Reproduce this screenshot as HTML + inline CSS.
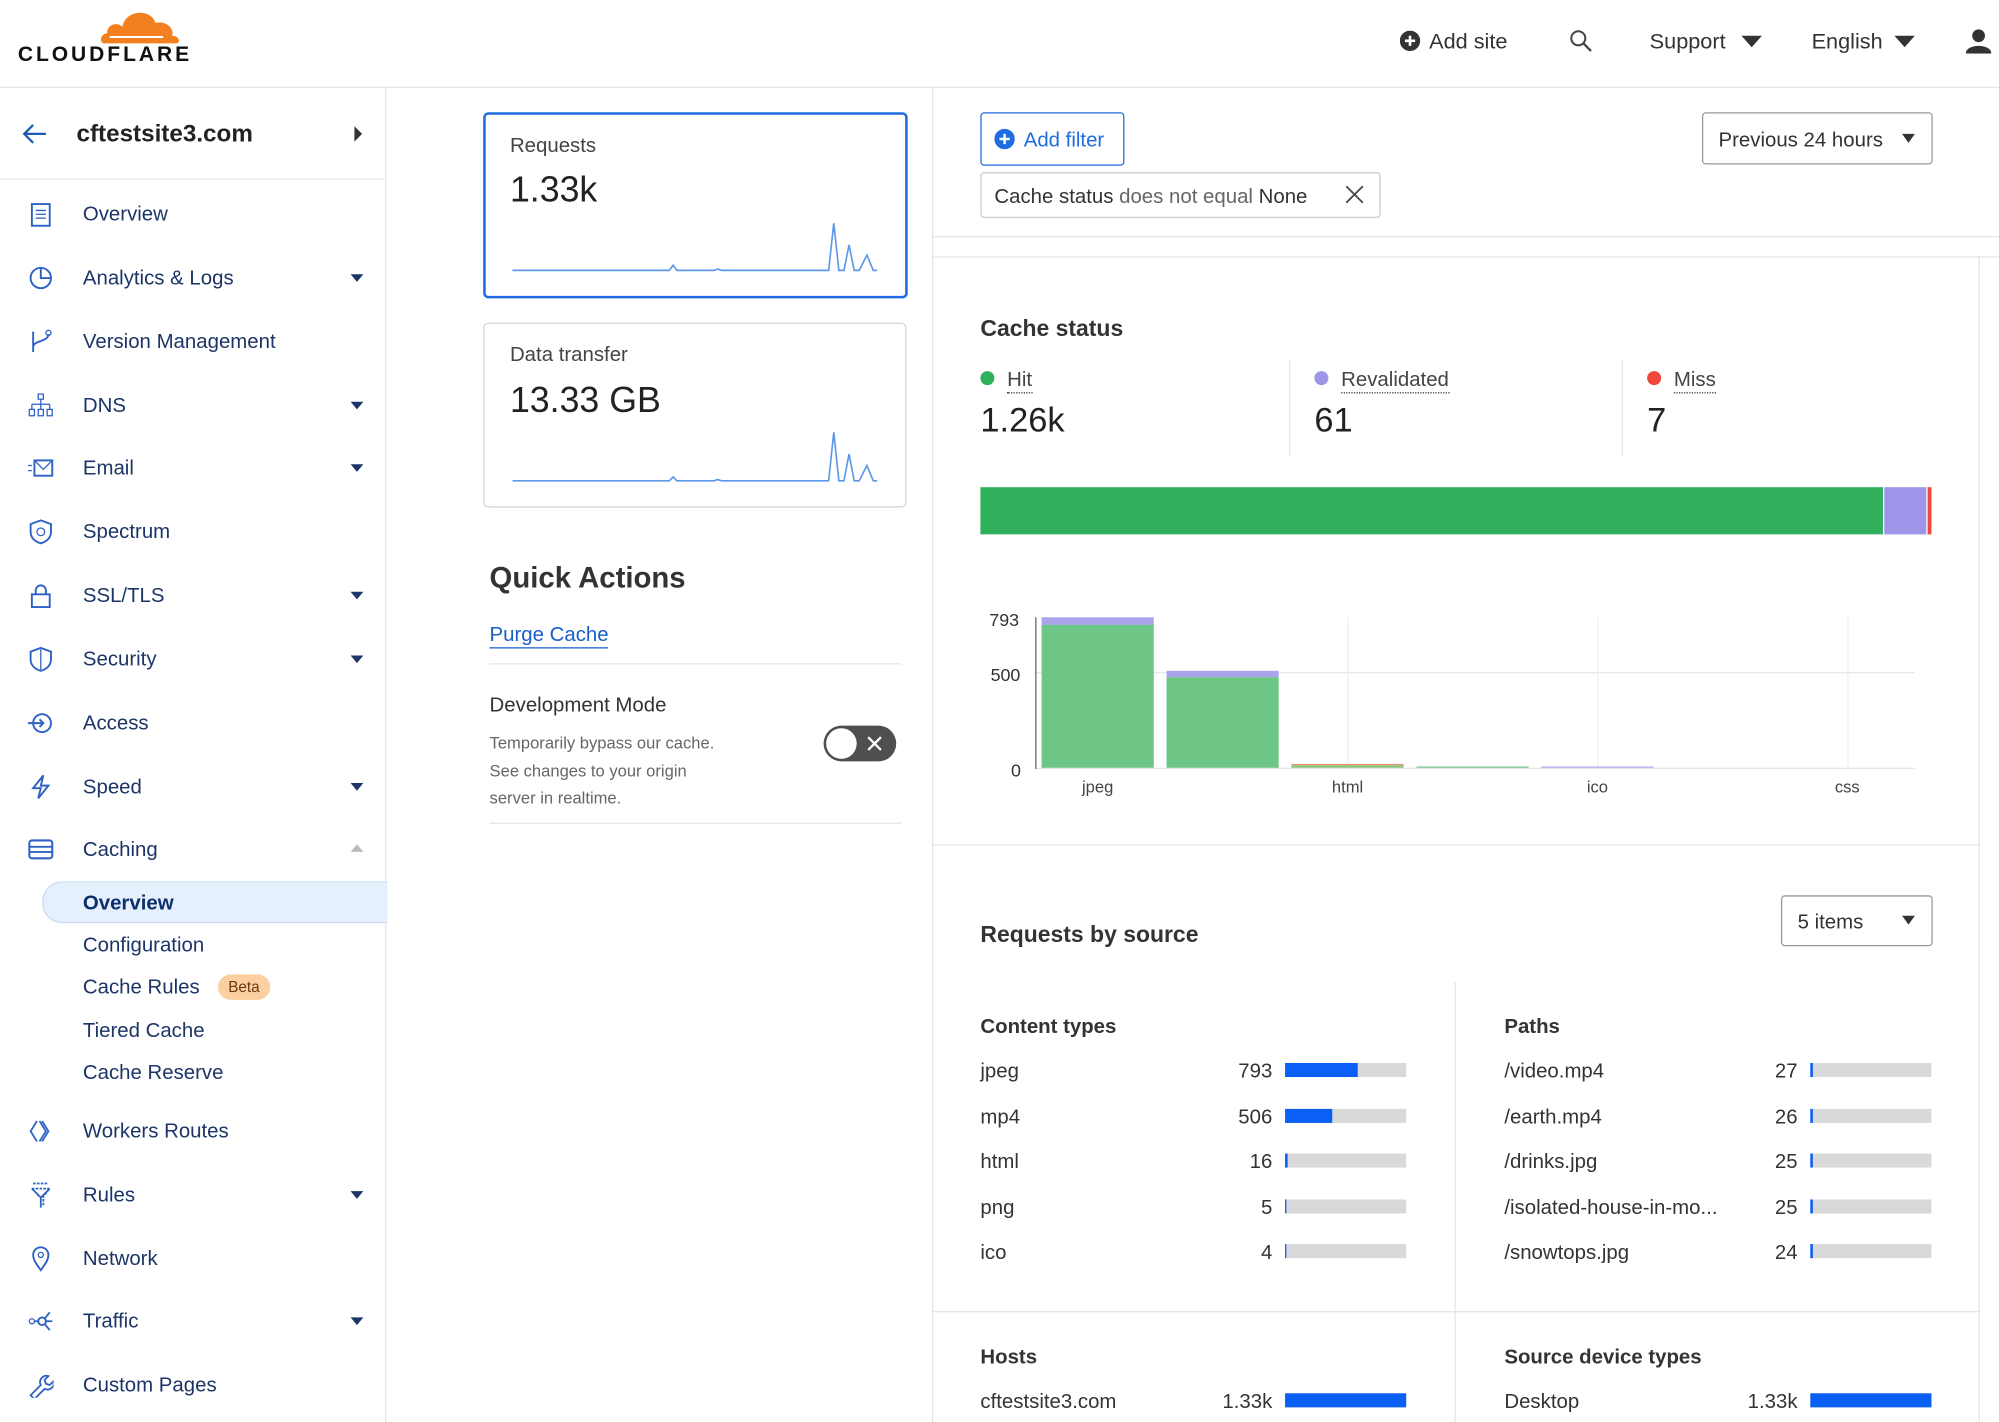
<!DOCTYPE html>
<html><head><meta charset="utf-8">
<style>
html,body{margin:0;padding:0;width:1999px;height:1422px;overflow:hidden;background:#fff}
#w{position:absolute;left:0;top:0;width:1568px;height:1115px;transform:scale(1.27487,1.27534);transform-origin:0 0;font-family:"Liberation Sans",Arial,sans-serif;color:#222}
.a{position:absolute;white-space:nowrap}
.nav{position:absolute;left:65px;font-size:16px;color:#1d3566;transform:translateY(calc(-50% + 2px))}
.ic{position:absolute;left:22px;width:20px;height:20px;transform:translateY(-50%)}
.car{position:absolute;left:275px;width:0;height:0;border-left:5px solid transparent;border-right:5px solid transparent;border-top:6px solid #1d3566;transform:translateY(-50%)}
.hl{position:absolute;background:#e5e5e5;height:1px}
.vl{position:absolute;background:#e5e5e5;width:1px}
.c{transform:translateY(calc(-50% + 2px))}
.row{position:absolute;font-size:16px;color:#333;transform:translateY(calc(-50% + 2px))}
.num{position:absolute;font-size:16px;color:#333;text-align:right;width:60px;transform:translateY(calc(-50% + 2px))}
.bar{position:absolute;height:11px;background:#d9d9d9;transform:translateY(-50%)}
.bar i{position:absolute;left:0;top:0;bottom:0;background:#0a5ff5}
.lbl{position:absolute;font-size:13px;color:#444;transform:translate(-50%,calc(-50% + 1px))}
</style></head><body><div id="w">

<!-- header -->
<svg class="a" style="left:78px;top:6px" width="64" height="30" viewBox="0 0 64 30"><path d="M4 28 C0 28 0 21 6 20 C6 13 14 11 18 15 C20 2 40 0 44 12 C52 10 59 16 57 22 C63 22 64 28 60 28 Z" fill="#f38020"/><path d="M8 23 L50 23" stroke="#fff" stroke-width="1.5"/></svg>
<div class="a" style="left:14px;top:34px;font-size:16.5px;font-weight:bold;letter-spacing:2.3px;color:#111">CLOUDFLARE</div>
<div class="hl" style="left:0;top:68px;width:1568px"></div>
<svg class="a" style="left:1098px;top:24px" width="16" height="16"><circle cx="8" cy="8" r="8" fill="#333"/><path d="M8 4v8M4 8h8" stroke="#fff" stroke-width="2"/></svg>
<div class="a c" style="left:1121px;top:31px;font-size:17px;color:#333">Add site</div>
<svg class="a" style="left:1231px;top:23px" width="18" height="18"><circle cx="7" cy="7" r="5.5" fill="none" stroke="#444" stroke-width="1.6"/><path d="M11 11l6 6" stroke="#444" stroke-width="1.8"/></svg>
<div class="a c" style="left:1294px;top:31px;font-size:17px;color:#333">Support</div>
<div class="a" style="left:1366px;top:28px;border-left:8px solid transparent;border-right:8px solid transparent;border-top:9px solid #333"></div>
<div class="a c" style="left:1421px;top:31px;font-size:17px;color:#333">English</div>
<div class="a" style="left:1486px;top:28px;border-left:8px solid transparent;border-right:8px solid transparent;border-top:9px solid #333"></div>
<svg class="a" style="left:1542px;top:22px" width="20" height="20"><circle cx="10" cy="6" r="5" fill="#333"/><path d="M0 20 C0 12 20 12 20 20Z" fill="#333"/></svg>

<!-- sidebar -->
<div class="vl" style="left:302px;top:68px;height:1047px"></div>
<svg class="a" style="left:16px;top:96px" width="22" height="18"><path d="M20 9H3M10 2L3 9l7 7" fill="none" stroke="#1d5bb8" stroke-width="1.8"/></svg>
<div class="a c" style="left:60px;top:104px;font-size:19px;font-weight:bold;color:#222">cftestsite3.com</div>
<div class="a" style="left:278px;top:99px;border-top:6px solid transparent;border-bottom:6px solid transparent;border-left:6px solid #333"></div>
<div class="hl" style="left:0;top:140px;width:302px"></div>

<svg class="ic" style="top:168px" viewBox="0 0 20 20"><rect x="3" y="2" width="14" height="17" fill="none" stroke="#2d62c4" stroke-width="1.5"/><path d="M6 7h8M6 10h8M6 13h8" stroke="#2d62c4"/></svg><div class="nav" style="top:167px">Overview</div>
<svg class="ic" style="top:218px" viewBox="0 0 20 20"><circle cx="10" cy="10" r="8" fill="none" stroke="#2d62c4" stroke-width="1.5"/><path d="M10 2v8h8" fill="none" stroke="#2d62c4" stroke-width="1.5"/></svg><div class="nav" style="top:217px">Analytics &amp; Logs</div><div class="car" style="top:218px"></div>
<svg class="ic" style="top:268px" viewBox="0 0 20 20"><path d="M4 2v16M4 14c0-5 12-4 12-10" fill="none" stroke="#2d62c4" stroke-width="1.5"/><circle cx="16" cy="3" r="2" fill="none" stroke="#2d62c4"/></svg><div class="nav" style="top:267px">Version Management</div>
<svg class="ic" style="top:318px" viewBox="0 0 20 20"><rect x="8" y="1" width="4" height="4" fill="none" stroke="#2d62c4"/><path d="M10 5v4M3 9h14M3 9v4M10 9v4M17 9v4" stroke="#2d62c4"/><rect x="1" y="13" width="4" height="5" fill="none" stroke="#2d62c4"/><rect x="8" y="13" width="4" height="5" fill="none" stroke="#2d62c4"/><rect x="15" y="13" width="4" height="5" fill="none" stroke="#2d62c4"/></svg><div class="nav" style="top:317px">DNS</div><div class="car" style="top:318px"></div>
<svg class="ic" style="top:367px" viewBox="0 0 20 20"><rect x="5" y="4" width="14" height="12" fill="none" stroke="#2d62c4" stroke-width="1.5"/><path d="M5 4l7 7 7-7M0 8h3M0 12h3" fill="none" stroke="#2d62c4"/></svg><div class="nav" style="top:366px">Email</div><div class="car" style="top:367px"></div>
<svg class="ic" style="top:417px" viewBox="0 0 20 20"><path d="M10 1l8 3v6c0 5-4 8-8 9-4-1-8-4-8-9V4z" fill="none" stroke="#2d62c4" stroke-width="1.5"/><circle cx="10" cy="10" r="3" fill="none" stroke="#2d62c4"/></svg><div class="nav" style="top:416px">Spectrum</div>
<svg class="ic" style="top:467px" viewBox="0 0 20 20"><rect x="3" y="9" width="14" height="10" fill="none" stroke="#2d62c4" stroke-width="1.5"/><path d="M6 9V6a4 4 0 018 0v3" fill="none" stroke="#2d62c4" stroke-width="1.5"/></svg><div class="nav" style="top:466px">SSL/TLS</div><div class="car" style="top:467px"></div>
<svg class="ic" style="top:517px" viewBox="0 0 20 20"><path d="M10 1l8 3v6c0 5-4 8-8 9-4-1-8-4-8-9V4z" fill="none" stroke="#2d62c4" stroke-width="1.5"/><path d="M10 2v16" stroke="#2d62c4"/></svg><div class="nav" style="top:516px">Security</div><div class="car" style="top:517px"></div>
<svg class="ic" style="top:567px" viewBox="0 0 20 20"><circle cx="11" cy="10" r="7" fill="none" stroke="#2d62c4" stroke-width="1.5"/><path d="M0 10h12M9 7l3 3-3 3" fill="none" stroke="#2d62c4" stroke-width="1.5"/></svg><div class="nav" style="top:566px">Access</div>
<svg class="ic" style="top:617px" viewBox="0 0 20 20"><path d="M12 1L4 11h6l-2 8 8-10h-6z" fill="none" stroke="#2d62c4" stroke-width="1.5"/></svg><div class="nav" style="top:616px">Speed</div><div class="car" style="top:617px"></div>
<svg class="ic" style="top:666px" viewBox="0 0 20 20"><rect x="1" y="3" width="18" height="14" rx="2" fill="none" stroke="#2d62c4" stroke-width="1.6"/><path d="M1 8h18M1 12h18" stroke="#2d62c4" stroke-width="1.5"/></svg><div class="nav" style="top:665px">Caching</div>
<div class="a" style="left:275px;top:662px;border-left:5px solid transparent;border-right:5px solid transparent;border-bottom:6px solid #bbb"></div>
<div class="a" style="left:33px;top:691px;width:270px;height:31px;background:#e6f0fc;border:1px solid #c6daf5;border-right:none;border-radius:16px 0 0 16px"></div>
<div class="nav" style="top:707px;font-weight:bold;color:#0b2f6b">Overview</div>
<div class="nav" style="top:740px">Configuration</div>
<div class="nav" style="top:773px">Cache Rules</div>
<div class="a c" style="left:171px;top:772px;background:#fbcf9f;color:#6a3a10;font-size:12px;padding:3px 8px;border-radius:10px">Beta</div>
<div class="nav" style="top:807px">Tiered Cache</div>
<div class="nav" style="top:840px">Cache Reserve</div>
<svg class="ic" style="top:887px" viewBox="0 0 20 20"><path d="M7 2L2 10l5 8M11 2l5 8-5 8M9 2l5 8-5 8" fill="none" stroke="#2d62c4" stroke-width="1.4"/></svg><div class="nav" style="top:886px">Workers Routes</div>
<svg class="ic" style="top:937px" viewBox="0 0 20 20"><path d="M4 1h12M3 5h14l-5 6v7M8 11v-1" fill="none" stroke="#2d62c4" stroke-width="1.4" stroke-dasharray="2 1"/><path d="M3 5l7 7 7-7M10 12v8" fill="none" stroke="#2d62c4" stroke-width="1.4"/></svg><div class="nav" style="top:936px">Rules</div><div class="car" style="top:937px"></div>
<svg class="ic" style="top:987px" viewBox="0 0 20 20"><path d="M10 19C5 12 4 10 4 7a6 6 0 0112 0c0 3-1 5-6 12z" fill="none" stroke="#2d62c4" stroke-width="1.5"/><circle cx="10" cy="7" r="2" fill="none" stroke="#2d62c4"/></svg><div class="nav" style="top:986px">Network</div>
<svg class="ic" style="top:1036px" viewBox="0 0 20 20"><circle cx="3" cy="10" r="2" fill="none" stroke="#2d62c4"/><circle cx="11" cy="10" r="3" fill="none" stroke="#2d62c4" stroke-width="1.5"/><path d="M5 10h3M13 8l4-5M13 12l4 5M14 10h5" stroke="#2d62c4" stroke-width="1.4"/></svg><div class="nav" style="top:1035px">Traffic</div><div class="car" style="top:1036px"></div>
<svg class="ic" style="top:1086px" viewBox="0 0 20 20"><path d="M2 18l8-8a5 5 0 016-7l-3 3 1 3 3 1 3-3a5 5 0 01-7 6l-8 8z" fill="none" stroke="#2d62c4" stroke-width="1.4"/></svg><div class="nav" style="top:1085px">Custom Pages</div>

<!-- middle column -->
<div class="vl" style="left:731px;top:68px;height:1047px"></div>
<div class="a" style="left:379px;top:88px;width:329px;height:142px;border:2px solid #1f6ce0;border-radius:4px"></div>
<div class="a c" style="left:400px;top:113px;font-size:16px;color:#444">Requests</div>
<div class="a c" style="left:400px;top:147px;font-size:28px;color:#222">1.33k</div>
<svg class="a" style="left:400px;top:170px" width="290" height="46"><polyline points="2,42 125,42 128,38 131,42 160,42 163,41 166,42 250,42 254,5 258,42 262,42 266,22 270,42 274,42 280,30 285,42 288,42" fill="none" stroke="#5e98ea" stroke-width="1.3"/></svg>
<div class="a" style="left:379px;top:253px;width:330px;height:143px;border:1px solid #d5d5d5;border-radius:4px"></div>
<div class="a c" style="left:400px;top:277px;font-size:16px;color:#444">Data transfer</div>
<div class="a c" style="left:400px;top:312px;font-size:28px;color:#222">13.33 GB</div>
<svg class="a" style="left:400px;top:335px" width="290" height="46"><polyline points="2,42 125,42 128,39 131,42 160,42 163,41 166,42 250,42 254,4 258,42 262,42 266,21 270,42 274,42 280,30 285,42 288,42" fill="none" stroke="#5e98ea" stroke-width="1.3"/></svg>
<div class="a c" style="left:384px;top:451px;font-size:23px;font-weight:bold;color:#333">Quick Actions</div>
<div class="a c" style="left:384px;top:497px;font-size:16px;color:#1a5fc9;border-bottom:1px solid #1a5fc9">Purge Cache</div>
<div class="hl" style="left:384px;top:520px;width:323px"></div>
<div class="a c" style="left:384px;top:552px;font-size:16px;color:#333">Development Mode</div>
<div class="a" style="left:384px;top:572px;font-size:13px;line-height:21.5px;color:#666">Temporarily bypass our cache.<br>See changes to your origin<br>server in realtime.</div>
<div class="a" style="left:646px;top:569px;width:57px;height:28px;border-radius:14px;background:#4f4f4f"></div>
<div class="a" style="left:648px;top:571px;width:24px;height:24px;border-radius:12px;background:#fff"></div>
<svg class="a" style="left:680px;top:577px" width="12" height="12"><path d="M1 1l10 10M11 1L1 11" stroke="#fff" stroke-width="1.8"/></svg>
<div class="hl" style="left:384px;top:645px;width:323px"></div>

<!-- right column -->
<div class="a" style="left:769px;top:88px;width:111px;height:40px;border:1px solid #1f6ce0;border-radius:3px"></div>
<svg class="a" style="left:780px;top:101px" width="16" height="16"><circle cx="8" cy="8" r="8" fill="#1f6ce0"/><path d="M8 4v8M4 8h8" stroke="#fff" stroke-width="2"/></svg>
<div class="a c" style="left:803px;top:109px;font-size:16px;color:#1f6ce0">Add filter</div>
<div class="a" style="left:1335px;top:88px;width:179px;height:39px;border:1px solid #999;border-radius:3px"></div>
<div class="a c" style="left:1348px;top:109px;font-size:16px;color:#333">Previous 24 hours</div>
<div class="a" style="left:1492px;top:105px;border-left:5px solid transparent;border-right:5px solid transparent;border-top:7px solid #333"></div>
<div class="a" style="left:769px;top:135px;width:312px;height:34px;border:1px solid #ccc;border-radius:3px"></div>
<div class="a c" style="left:780px;top:153px;font-size:16px;color:#333">Cache status <span style="color:#666">does not equal</span> None</div>
<svg class="a" style="left:1055px;top:145px" width="15" height="15"><path d="M1 1l13 13M14 1L1 14" stroke="#444" stroke-width="1.4"/></svg>
<div class="hl" style="left:731px;top:185px;width:837px"></div>
<div class="hl" style="left:731px;top:201px;width:837px"></div>
<div class="vl" style="left:1552px;top:201px;height:914px"></div>

<div class="a c" style="left:769px;top:256px;font-size:18px;font-weight:bold;color:#333">Cache status</div>
<div class="a" style="left:769px;top:291px;width:11px;height:11px;border-radius:6px;background:#2fb15b"></div>
<div class="a c" style="left:790px;top:297px;font-size:16px;color:#444;border-bottom:1px dotted #444">Hit</div>
<div class="a c" style="left:769px;top:328px;font-size:27px;color:#222">1.26k</div>
<div class="vl" style="left:1011px;top:283px;height:74px"></div>
<div class="a" style="left:1031px;top:291px;width:11px;height:11px;border-radius:6px;background:#9d96e8"></div>
<div class="a c" style="left:1052px;top:297px;font-size:16px;color:#444;border-bottom:1px dotted #444">Revalidated</div>
<div class="a c" style="left:1031px;top:328px;font-size:27px;color:#222">61</div>
<div class="vl" style="left:1272px;top:283px;height:74px"></div>
<div class="a" style="left:1292px;top:291px;width:11px;height:11px;border-radius:6px;background:#f0463c"></div>
<div class="a c" style="left:1313px;top:297px;font-size:16px;color:#444;border-bottom:1px dotted #444">Miss</div>
<div class="a c" style="left:1292px;top:328px;font-size:27px;color:#222">7</div>

<div class="a" style="left:769px;top:382px;width:708px;height:37px;background:#31b05c"></div>
<div class="a" style="left:1478px;top:382px;width:33px;height:37px;background:#9d96e8"></div>
<div class="a" style="left:1512px;top:382px;width:3px;height:37px;background:#f0463c"></div>

<!-- bar chart -->
<div class="hl" style="left:812px;top:527px;width:690px"></div>
<div class="hl" style="left:812px;top:602px;width:690px"></div>
<div class="vl" style="left:1057px;top:484px;height:118px;background:#eee"></div>
<div class="vl" style="left:1253px;top:484px;height:118px;background:#eee"></div>
<div class="vl" style="left:1449px;top:484px;height:118px;background:#eee"></div>
<div class="a" style="left:812px;top:484px;width:1px;height:119px;background:#666"></div>
<div class="a c" style="left:776px;top:484px;font-size:14px;color:#333">793</div>
<div class="a c" style="left:777px;top:527px;font-size:14px;color:#333">500</div>
<div class="a c" style="left:793px;top:602px;font-size:14px;color:#333">0</div>
<div class="a" style="left:817px;top:484px;width:88px;height:6px;background:#a9a4ec"></div>
<div class="a" style="left:817px;top:490px;width:88px;height:112px;background:#6dc586"></div>
<div class="a" style="left:915px;top:526px;width:88px;height:5px;background:#a9a4ec"></div>
<div class="a" style="left:915px;top:531px;width:88px;height:71px;background:#6dc586"></div>
<div class="a" style="left:1013px;top:599px;width:88px;height:1px;background:#e89070"></div>
<div class="a" style="left:1013px;top:600px;width:88px;height:2px;background:#8fc47d"></div>
<div class="a" style="left:1111px;top:601px;width:88px;height:1px;background:#7cc28f"></div>
<div class="a" style="left:1209px;top:601px;width:88px;height:1px;background:#b0acee"></div>
<div class="lbl" style="left:861px;top:616px">jpeg</div>
<div class="lbl" style="left:1057px;top:616px">html</div>
<div class="lbl" style="left:1253px;top:616px">ico</div>
<div class="lbl" style="left:1449px;top:616px">css</div>

<div class="hl" style="left:731px;top:662px;width:821px"></div>

<!-- requests by source -->
<div class="a c" style="left:769px;top:731px;font-size:18px;font-weight:bold;color:#333">Requests by source</div>
<div class="a" style="left:1397px;top:702px;width:117px;height:38px;border:1px solid #999;border-radius:3px"></div>
<div class="a c" style="left:1410px;top:722px;font-size:16px;color:#333">5 items</div>
<div class="a" style="left:1492px;top:718px;border-left:5px solid transparent;border-right:5px solid transparent;border-top:7px solid #333"></div>
<div class="vl" style="left:1141px;top:770px;height:345px"></div>

<div class="a c" style="left:769px;top:804px;font-size:16px;font-weight:bold;color:#333">Content types</div>
<div class="row" style="left:769px;top:839px">jpeg</div><div class="num" style="left:938px;top:839px">793</div><div class="bar" style="left:1008px;top:839px;width:95px"><i style="width:57px"></i></div>
<div class="row" style="left:769px;top:875px">mp4</div><div class="num" style="left:938px;top:875px">506</div><div class="bar" style="left:1008px;top:875px;width:95px"><i style="width:37px"></i></div>
<div class="row" style="left:769px;top:910px">html</div><div class="num" style="left:938px;top:910px">16</div><div class="bar" style="left:1008px;top:910px;width:95px"><i style="width:2px"></i></div>
<div class="row" style="left:769px;top:946px">png</div><div class="num" style="left:938px;top:946px">5</div><div class="bar" style="left:1008px;top:946px;width:95px"><i style="width:1px"></i></div>
<div class="row" style="left:769px;top:981px">ico</div><div class="num" style="left:938px;top:981px">4</div><div class="bar" style="left:1008px;top:981px;width:95px"><i style="width:1px"></i></div>

<div class="a c" style="left:1180px;top:804px;font-size:16px;font-weight:bold;color:#333">Paths</div>
<div class="row" style="left:1180px;top:839px">/video.mp4</div><div class="num" style="left:1350px;top:839px">27</div><div class="bar" style="left:1420px;top:839px;width:95px"><i style="width:2px"></i></div>
<div class="row" style="left:1180px;top:875px">/earth.mp4</div><div class="num" style="left:1350px;top:875px">26</div><div class="bar" style="left:1420px;top:875px;width:95px"><i style="width:2px"></i></div>
<div class="row" style="left:1180px;top:910px">/drinks.jpg</div><div class="num" style="left:1350px;top:910px">25</div><div class="bar" style="left:1420px;top:910px;width:95px"><i style="width:2px"></i></div>
<div class="row" style="left:1180px;top:946px">/isolated-house-in-mo...</div><div class="num" style="left:1350px;top:946px">25</div><div class="bar" style="left:1420px;top:946px;width:95px"><i style="width:2px"></i></div>
<div class="row" style="left:1180px;top:981px">/snowtops.jpg</div><div class="num" style="left:1350px;top:981px">24</div><div class="bar" style="left:1420px;top:981px;width:95px"><i style="width:2px"></i></div>

<div class="hl" style="left:731px;top:1028px;width:821px"></div>
<div class="a c" style="left:769px;top:1063px;font-size:16px;font-weight:bold;color:#333">Hosts</div>
<div class="row" style="left:769px;top:1098px">cftestsite3.com</div><div class="num" style="left:938px;top:1098px">1.33k</div><div class="bar" style="left:1008px;top:1098px;width:95px"><i style="width:95px"></i></div>
<div class="a c" style="left:1180px;top:1063px;font-size:16px;font-weight:bold;color:#333">Source device types</div>
<div class="row" style="left:1180px;top:1098px">Desktop</div><div class="num" style="left:1350px;top:1098px">1.33k</div><div class="bar" style="left:1420px;top:1098px;width:95px"><i style="width:95px"></i></div>

</div></body></html>
